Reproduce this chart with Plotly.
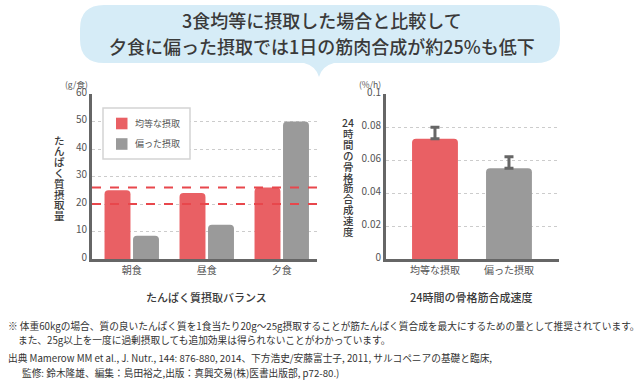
import plotly.graph_objects as go

W, H = 640, 382

# ---------------- data ----------------
meals = ["朝食", "昼食", "夕食"]
even_intake = [25, 24, 26]          # 均等な摂取 (g/食)
skewed_intake = [8.5, 12.5, 50]     # 偏った摂取 (g/食)
target_lines = [20, 26]             # 推奨摂取量の目安 (g/食)
left_yticks = [0, 10, 20, 30, 40, 50, 60]

groups = ["均等な摂取", "偏った摂取"]
mps_rate = [0.073, 0.055]           # 24時間の骨格筋合成速度 (%/h)
mps_err = [0.007, 0.007]
right_yticks = [0, 0.02, 0.04, 0.06, 0.08, 0.1]
right_yticktext = ["0", "0.02", "0.04", "0.06", "0.08", "0.1"]

title_lines = [
    "3食均等に摂取した場合と比較して",
    "夕食に偏った摂取では1日の筋肉合成が約25%も低下",
]
left_ytitle = "たんぱく質摂取量"
right_ytitle = ["24", "時", "間", "の", "骨", "格", "筋", "合", "成", "速", "度"]
left_xtitle = "たんぱく質摂取バランス"
right_xtitle = "24時間の骨格筋合成速度"
notes = [
    "※ 体重60kgの場合、質の良いたんぱく質を1食当たり20g～25g摂取することが筋たんぱく質合成を最大にするための量として推奨されています。",
    "また、25g以上を一度に過剰摂取しても追加効果は得られないことがわかっています。",
    "出典 Mamerow MM et al., J. Nutr., 144: 876-880, 2014、下方浩史/安藤富士子, 2011, サルコペニアの基礎と臨床,",
    "監修: 鈴木隆雄、編集：島田裕之,出版：真興交易(株)医書出版部, p72-80.)",
]

# ---------------- style ----------------
RED = "#e96064"
GRAY = "#9a9a9a"
AXIS = "#666666"
TXT = "#555555"
DARK = "#3a3a3a"
BUBBLE = "#d6ecf7"
FONT = "Noto Sans CJK JP"
COLORS = [RED, GRAY]


def px(x):
    return x / W


def py(y):
    return 1 - y / H


def label(text, x, y, size, color=TXT, weight=None, xanchor="center"):
    f = dict(family=FONT, size=size, color=color)
    if weight:
        f["weight"] = weight
    return dict(text=text, x=px(x), y=py(y), xref="paper", yref="paper",
                xanchor=xanchor, yanchor="middle", showarrow=False, font=f)


fig = go.Figure()
fig.add_trace(go.Bar(x=meals, y=even_intake, name=groups[0], showlegend=False,
                     marker=dict(color=RED, cornerradius=4, line=dict(width=0)),
                     xaxis="x", yaxis="y"))
fig.add_trace(go.Bar(x=meals, y=skewed_intake, name=groups[1], showlegend=False,
                     marker=dict(color=GRAY, cornerradius=4, line=dict(width=0)),
                     xaxis="x", yaxis="y"))
fig.add_trace(go.Bar(x=groups, y=mps_rate, width=0.62, showlegend=False,
                     marker=dict(color=COLORS, cornerradius=4, line=dict(width=0)),
                     error_y=dict(type="data", array=mps_err, arrayminus=[0, 0],
                                  symmetric=False, color=AXIS, thickness=3, width=4.5),
                     xaxis="x2", yaxis="y2"))

axis_common = dict(showline=True, linecolor=AXIS, linewidth=3, ticks="",
                   tickfont=dict(family=FONT, size=10, color=TXT), zeroline=False,
                   fixedrange=True, automargin=False)

fig.update_layout(
    template="none",
    width=W, height=H,
    margin=dict(l=0, r=0, t=0, b=0, pad=0, autoexpand=False),
    paper_bgcolor="white", plot_bgcolor="white",
    barmode="group", bargap=0.24, bargroupgap=0.09,
    font=dict(family=FONT, color=TXT),
    showlegend=False,
    xaxis=dict(domain=[px(92), px(317)], anchor="y", range=[-0.53, 2.47],
               showgrid=False, **axis_common),
    yaxis=dict(domain=[py(259), py(94)], anchor="x", range=[0, 60.05],
               tickvals=left_yticks, showgrid=True, gridcolor="#cccccc",
               griddash="dot", gridwidth=1, ticklabelshift=-2, **axis_common),
    xaxis2=dict(domain=[px(386), px(559)], anchor="y2", range=[-0.662, 1.676],
                showgrid=False, **axis_common),
    yaxis2=dict(domain=[py(259), py(94)], anchor="x2", range=[0, 0.1001],
                tickvals=right_yticks, ticktext=right_yticktext, showgrid=True,
                gridcolor="#cccccc", griddash="dot", gridwidth=1, ticklabelshift=-2,
                **axis_common),
)

# speech bubble
x0, x1, y0, y1, r = 80, 560, 5, 63, 24
path = (
    f"M {px(x0 + r)},{py(y0)} L {px(x1 - r)},{py(y0)} "
    f"Q {px(x1)},{py(y0)} {px(x1)},{py(y0 + r)} "
    f"L {px(x1)},{py(y1 - r)} Q {px(x1)},{py(y1)} {px(x1 - r)},{py(y1)} "
    f"L {px(334)},{py(y1)} Q {px(322)},{py(66)} {px(319)},{py(77)} "
    f"Q {px(316)},{py(66)} {px(304)},{py(y1)} "
    f"L {px(x0 + r)},{py(y1)} Q {px(x0)},{py(y1)} {px(x0)},{py(y1 - r)} "
    f"L {px(x0)},{py(y0 + r)} Q {px(x0)},{py(y0)} {px(x0 + r)},{py(y0)} Z"
)
fig.add_shape(type="path", path=path, xref="paper", yref="paper",
              fillcolor=BUBBLE, line=dict(width=0), layer="below")

# target dashed lines
for v in target_lines:
    fig.add_shape(type="line", xref="x domain", yref="y", x0=0, x1=1, y0=v, y1=v,
                  line=dict(color="#e8474c", width=2, dash="dash"), layer="above")

# legend box (drawn)
fig.add_shape(type="rect", xref="paper", yref="paper",
              x0=px(103), x1=px(190), y0=py(159), y1=py(108),
              fillcolor="white", line=dict(color="#d4d4d4", width=1.5), layer="above")
ann = []
for i, (name, col) in enumerate(zip(groups, COLORS)):
    cy = 123.5 + i * 20.5
    fig.add_shape(type="rect", xref="paper", yref="paper",
                  x0=px(116), x1=px(127.5), y0=py(cy + 5.8), y1=py(cy - 5.8),
                  fillcolor=col, line=dict(width=0), layer="above")
    ann.append(label(name, 133, cy, 9, xanchor="left"))

for t, yy in zip(title_lines, [20, 46]):
    ann.append(label(t, 322, yy, 18, DARK, 500))

# units
ann.append(label("(g/食)", 76, 84, 8.5))
ann.append(label("(%/h)", 370, 84, 8.5))

# vertical y titles
for i, ch in enumerate(left_ytitle):
    ann.append(label(ch, 59, 140 + i * 10.8, 10.5, DARK, 500))
for i, ch in enumerate(right_ytitle):
    ann.append(label(ch, 348, 123 + i * 10.8, 10.5, DARK, 500))

# x titles
ann.append(label(left_xtitle, 206, 297, 11, DARK, 500))
ann.append(label(right_xtitle, 471, 297, 11, DARK, 500))

# notes
for t, xx, yy in zip(notes, [6, 16, 6, 20], [326, 340, 358, 373]):
    ann.append(label(t, xx, yy, 9.7, "#333333", xanchor="left"))

fig.update_layout(annotations=ann)
fig.write_html(
    "out.html",
    config={"displayModeBar": False},
    post_script="document.body.style.margin='0';document.body.style.overflow='hidden';",
)
